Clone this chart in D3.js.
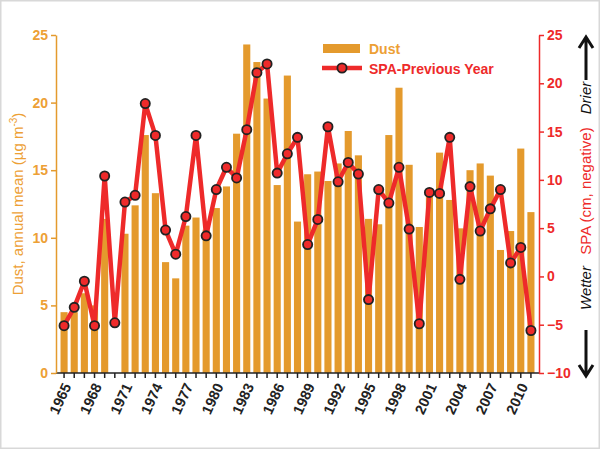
<!DOCTYPE html>
<html>
<head>
<meta charset="utf-8">
<script src="https://cdn.jsdelivr.net/npm/d3@7"></script>
<style>
  body { margin: 0; background: #fff; }
  svg { display: block; font-family: Arial, "Liberation Sans", sans-serif; }
</style>
</head>
<body>
<div id="chart"></div>
<script>
// years 1965-2011
var years = d3.range(1965, 2012);
// dust, annual mean (µg m-3); 1970 missing
var dust = [4.5, 4.5, 5.9, 5.0, 11.4, null, 10.3, 12.4, 17.6, 13.3, 8.2, 7.0, 10.9, 11.5, 10.6,
            12.2, 13.8, 17.7, 24.3, 23.0, 20.3, 13.9, 22.0, 11.2, 14.7, 14.9, 14.2, 15.5, 17.9, 16.1,
            11.4, 11.0, 17.6, 21.1, 15.4, 10.8, 13.3, 16.3, 12.8, 10.7, 15.0, 15.5, 14.6, 9.1, 10.5,
            16.6, 11.9];
// SPA, previous year (cm, negative)
var spa = [-5.1, -3.2, -0.5, -5.1, 10.4, -4.8, 7.7, 8.4, 17.9, 14.6, 4.8, 2.3, 6.2, 14.6, 4.2,
           9.0, 11.3, 10.2, 15.2, 21.1, 22.0, 10.7, 12.7, 14.4, 3.3, 5.9, 15.5, 9.8, 11.8, 10.6,
           -2.4, 9.0, 7.6, 11.3, 4.9, -4.9, 8.7, 8.6, 14.4, -0.3, 9.3, 4.7, 7.0, 9.0, 1.4,
           3.0, -5.6];
var dustTicks = [0, 5, 10, 15, 20, 25];
var spaTicks = [-10, -5, 0, 5, 10, 15, 20, 25];
var labelYears = d3.range(1965, 2012, 3);

var W = 600, H = 449;
var orange = "#E49A2D", orangeText = "#EDA035", red = "#EE2A2A";

var svg = d3.select("#chart").append("svg").attr("width", W).attr("height", H);
svg.append("rect").attr("x", 0.5).attr("y", 0.5).attr("width", W - 1).attr("height", H - 1)
  .attr("fill", "#fff").attr("stroke", "#d8d8d8").attr("stroke-width", 2);

var x = d3.scaleBand().domain(years).range([59, 536]).paddingInner(0.3).paddingOuter(0.15);
var yL = d3.scaleLinear().domain([0, 25]).range([373, 35]);
var yR = d3.scaleLinear().domain([-10, 25]).range([373, 35]);

// bars
svg.append("g").selectAll("rect")
  .data(years.map(function(y, i) { return {year: y, v: dust[i]}; }).filter(function(d) { return d.v != null; }))
  .join("rect")
  .attr("x", function(d) { return x(d.year); })
  .attr("width", x.bandwidth())
  .attr("y", function(d) { return yL(d.v); })
  .attr("height", function(d) { return yL(0) - yL(d.v); })
  .attr("fill", orange);

// x axis
var xAxis = svg.append("g").attr("transform", "translate(0,373)")
  .call(d3.axisBottom(x).tickSize(5).tickFormat(function(d) { return labelYears.indexOf(d) >= 0 ? d : ""; }));
xAxis.select(".domain").attr("d", "M56,0H539").attr("stroke", "#222").attr("stroke-width", 1.5);
xAxis.selectAll(".tick line").attr("stroke", "#222").attr("stroke-width", 1.5);
xAxis.selectAll(".tick text")
  .attr("font-size", 14.5).attr("font-weight", "bold").attr("fill", "#222")
  .attr("text-anchor", "end").attr("dy", "0.35em")
  .attr("transform", "translate(3,11) rotate(-65)").attr("y", 0).attr("x", 0);

// left axis
var gL = svg.append("g").attr("transform", "translate(56,0)")
  .call(d3.axisLeft(yL).tickValues(dustTicks).tickSize(5).tickSizeOuter(0));
gL.select(".domain").attr("stroke", orange).attr("stroke-width", 1.5);
gL.selectAll(".tick line").attr("stroke", orange).attr("stroke-width", 1.5);
gL.selectAll(".tick text").attr("font-size", 14).attr("font-weight", "bold").attr("fill", orangeText).attr("x", -8);

// right axis
var gR = svg.append("g").attr("transform", "translate(539,0)")
  .call(d3.axisRight(yR).tickValues(spaTicks).tickSize(5).tickSizeOuter(0));
gR.select(".domain").attr("stroke", red).attr("stroke-width", 1.5);
gR.selectAll(".tick line").attr("stroke", red).attr("stroke-width", 1.5);
gR.selectAll(".tick text").attr("font-size", 14).attr("font-weight", "bold").attr("fill", red).attr("x", 8);

// SPA line
var pts = years.map(function(y, i) { return {year: y, v: spa[i]}; });
var cx = function(d) { return x(d.year) + x.bandwidth() / 2; };
svg.append("path").datum(pts)
  .attr("d", d3.line().x(cx).y(function(d) { return yR(d.v); }))
  .attr("fill", "none").attr("stroke", red).attr("stroke-width", 4.5).attr("stroke-linejoin", "round");
svg.append("g").selectAll("circle").data(pts).join("circle")
  .attr("cx", cx).attr("cy", function(d) { return yR(d.v); })
  .attr("r", 4.6).attr("fill", red).attr("stroke", "#222").attr("stroke-width", 1.8);

// legend
svg.append("rect").attr("x", 323).attr("y", 44).attr("width", 37).attr("height", 9).attr("fill", orange);
svg.append("text").attr("x", 369).attr("y", 54).text("Dust")
  .attr("font-size", 14).attr("font-weight", "bold").attr("fill", orangeText);
svg.append("line").attr("x1", 322).attr("x2", 362).attr("y1", 68).attr("y2", 68)
  .attr("stroke", red).attr("stroke-width", 4.5);
svg.append("circle").attr("cx", 342).attr("cy", 68).attr("r", 4.6)
  .attr("fill", red).attr("stroke", "#222").attr("stroke-width", 1.8);
svg.append("text").attr("x", 369).attr("y", 74).text("SPA-Previous Year")
  .attr("font-size", 14).attr("font-weight", "bold").attr("fill", red);

// left title
var lt = svg.append("text").attr("transform", "translate(23,204) rotate(-90)")
  .attr("text-anchor", "middle").attr("font-size", 15).attr("fill", orangeText);
lt.append("tspan").text("Dust, annual mean (µg m");
lt.append("tspan").attr("dy", -6).attr("font-size", 10).text("-3");
lt.append("tspan").attr("dy", 6).text(")");

// right titles
svg.append("text").attr("transform", "translate(591,191) rotate(-90)")
  .attr("text-anchor", "middle").attr("font-size", 15).attr("fill", red).text("SPA (cm, negative)");
svg.append("text").attr("transform", "translate(591,98) rotate(-90)")
  .attr("text-anchor", "middle").attr("font-size", 15).attr("font-style", "italic").attr("fill", "#111").text("Drier");
svg.append("text").attr("transform", "translate(591,288) rotate(-90)")
  .attr("text-anchor", "middle").attr("font-size", 15).attr("font-style", "italic").attr("fill", "#111").text("Wetter");

// arrows
var arr = svg.append("g").attr("fill", "none").attr("stroke", "#111").attr("stroke-width", 3)
  .attr("stroke-linejoin", "miter");
arr.append("path").attr("d", "M586,80V38M579,48L586,37L593,48");
arr.append("path").attr("d", "M586,330V375M579,365L586,376L593,365");
</script>
</body>
</html>
